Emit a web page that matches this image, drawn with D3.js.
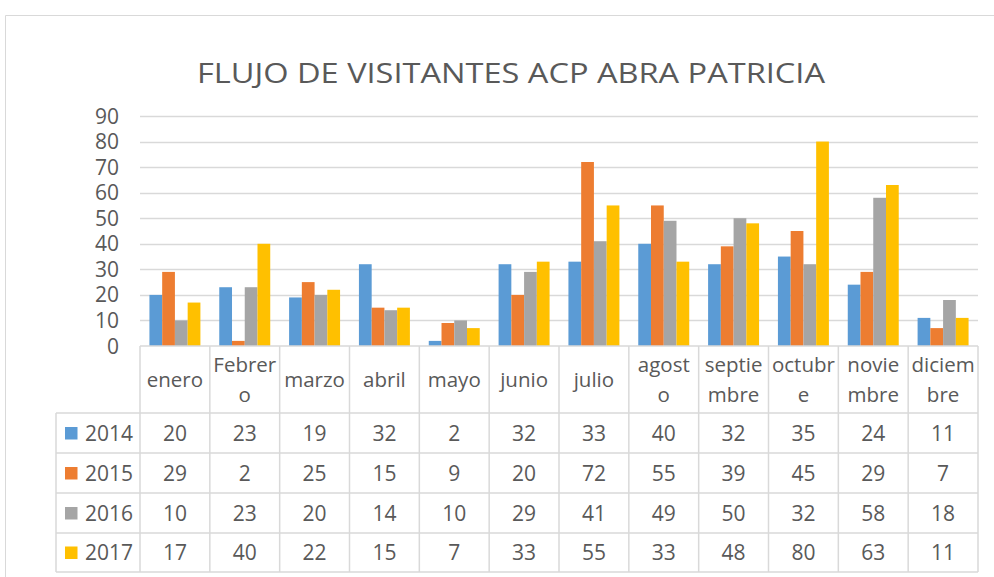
<!DOCTYPE html>
<html>
<head>
<meta charset="utf-8">
<script src="https://cdnjs.cloudflare.com/ajax/libs/d3/7.8.5/d3.min.js"></script>
<style>
  body { margin: 0; background: #fff; }
  svg text { font-family: "Open Sans", "Liberation Sans", sans-serif; fill: #595959; }
</style>
</head>
<body>
<svg id="chart" width="994" height="577"></svg>
<script>
(function() {
    var width = 994, height = 577

    // data
    var months = [["enero"], ["Febrer", "o"], ["marzo"], ["abril"], ["mayo"], ["junio"], ["julio"],
                  ["agost", "o"], ["septie", "mbre"], ["octubr", "e"], ["novie", "mbre"], ["diciem", "bre"]];
    var years = ["2014", "2015", "2016", "2017"];
    var v2014 = [20, 23, 19, 32, 2, 32, 33, 40, 32, 35, 24, 11];
    var v2015 = [29, 2, 25, 15, 9, 20, 72, 55, 39, 45, 29, 7];
    var v2016 = [10, 23, 20, 14, 10, 29, 41, 49, 50, 32, 58, 18];
    var v2017 = [17, 40, 22, 15, 7, 33, 55, 33, 48, 80, 63, 11];
    var yTicks = [0, 10, 20, 30, 40, 50, 60, 70, 80, 90];
    var colors = ["#5b9bd5", "#ed7d31", "#a5a5a5", "#ffc000"];

    var series = [v2014, v2015, v2016, v2017];
    var idx = d3.range(months.length);

    const svg = d3.select("#chart");

    // chart frame
    svg.append("path")
        .attr("d", "M5.5," + height + "V15.5H" + width)
        .attr("fill", "none")
        .attr("stroke", "#d9d9d9");

    svg.append("text")
        .attr("x", 511)
        .attr("y", 83)
        .attr("text-anchor", "middle")
        .attr("textLength", 628)
        .attr("lengthAdjust", "spacingAndGlyphs")
        .style("font-size", "28px")
        .text("FLUJO DE VISITANTES ACP ABRA PATRICIA");

    var x = d3.scaleBand().domain(idx).range([140, 978]);
    var xs = d3.scaleBand().domain(d3.range(4)).range([0, x.bandwidth()]).paddingInner(0).paddingOuter(0.74);
    var y = d3.scaleLinear().domain([0, 90]).range([346, 116]);

    // gridlines
    svg.append("g")
        .selectAll("line")
        .data(yTicks.slice(1))
        .join("line")
        .attr("x1", 140).attr("x2", 978)
        .attr("y1", function (d) { return Math.round(y(d)) + 0.5; })
        .attr("y2", function (d) { return Math.round(y(d)) + 0.5; })
        .attr("stroke", "#d9d9d9")
        .attr("stroke-width", 1.5);

    // y tick labels
    svg.append("g")
        .selectAll("text")
        .data(yTicks)
        .join("text")
        .attr("x", 119)
        .attr("y", function (d) { return y(d); })
        .attr("dy", "0.36em")
        .attr("text-anchor", "end")
        .style("font-size", "21px")
        .text(function (d) { return d; });

    // bars
    svg.append("g")
        .selectAll("g")
        .data(series)
        .join("g")
        .attr("fill", function (d, i) { return colors[i]; })
        .each(function (vals, si) {
            d3.select(this).selectAll("rect")
                .data(vals)
                .join("rect")
                .attr("x", function (d, i) { return x(i) + xs(si); })
                .attr("width", xs.bandwidth())
                .attr("y", function (d) { return y(d); })
                .attr("height", function (d) { return y(0) - y(d); });
        });

    // data table
    var rowY = [346, 413, 453, 493, 533, 572];
    var table = svg.append("g").attr("stroke", "#d9d9d9").attr("stroke-width", 1.5);
    table.append("line").attr("x1", 140).attr("x2", 978).attr("y1", rowY[0]).attr("y2", rowY[0]);
    rowY.slice(1).forEach(function (ry) {
        table.append("line").attr("x1", 56).attr("x2", 978).attr("y1", ry).attr("y2", ry);
    });
    table.append("line").attr("x1", 56).attr("x2", 56).attr("y1", rowY[1]).attr("y2", rowY[5]);
    idx.concat([months.length]).forEach(function (i) {
        var xx = i < months.length ? x(i) : x.range()[1];
        table.append("line").attr("x1", xx).attr("x2", xx).attr("y1", rowY[0]).attr("y2", rowY[5]);
    });

    // month header labels
    svg.append("g")
        .selectAll("text")
        .data(months)
        .join("text")
        .attr("text-anchor", "middle")
        .style("font-size", "20.5px")
        .each(function (lines, i) {
            var t = d3.select(this);
            var cx = x(i) + x.bandwidth() / 2;
            var start = lines.length === 1 ? 380 : 365;
            lines.forEach(function (ln, k) {
                t.append("tspan")
                    .attr("x", cx)
                    .attr("y", start + k * 30)
                    .attr("dy", "0.35em")
                    .text(ln);
            });
        });

    // rows
    series.forEach(function (vals, si) {
        var cy = (rowY[si + 1] + rowY[si + 2]) / 2;
        svg.append("rect")
            .attr("x", 65).attr("y", cy - 6)
            .attr("width", 12.5).attr("height", 12.5)
            .attr("fill", colors[si]);
        svg.append("text")
            .attr("x", 85).attr("y", cy)
            .attr("dy", "0.36em")
            .style("font-size", "21px")
            .text(years[si]);
        svg.append("g")
            .selectAll("text")
            .data(vals)
            .join("text")
            .attr("x", function (d, i) { return x(i) + x.bandwidth() / 2; })
            .attr("y", cy)
            .attr("dy", "0.36em")
            .attr("text-anchor", "middle")
            .style("font-size", "21px")
            .text(function (d) { return d; });
    });

})();
</script>
</body>
</html>
